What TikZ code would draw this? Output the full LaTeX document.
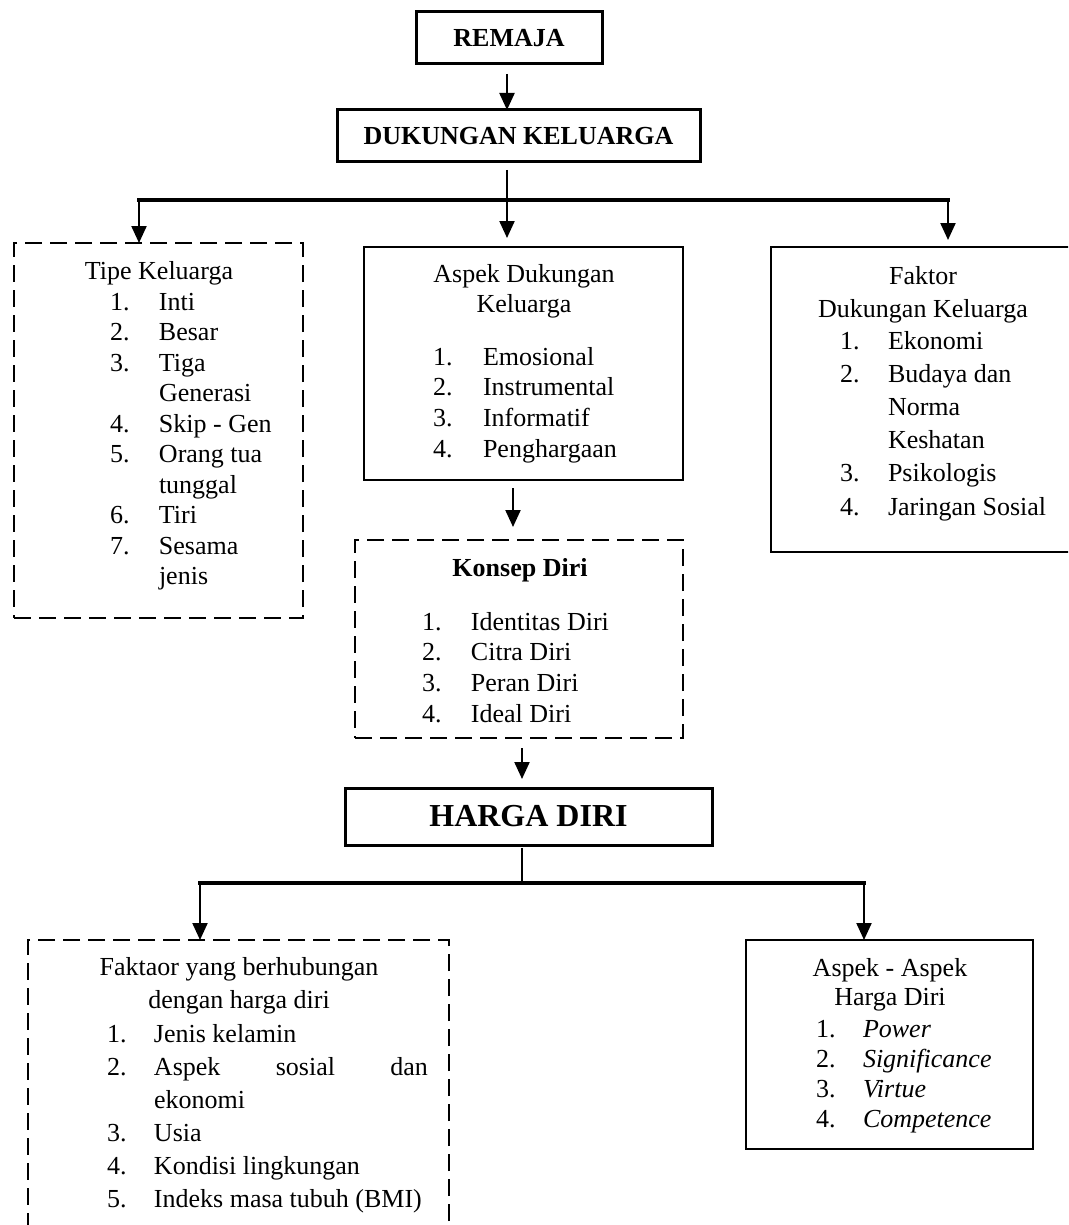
\documentclass[tikz,border=0pt]{standalone}
\usepackage{fontspec}
\setmainfont{Liberation Serif}
\usetikzlibrary{arrows.meta,calc}
\begin{document}
\begin{tikzpicture}[x=1pt,y=-1pt,
  every node/.style={inner sep=0pt,outer sep=0pt},
  bigbox/.style={draw,line width=3pt,font=\bfseries\fontsize{26}{30}\selectfont},
  solidbox/.style={draw,line width=2pt},
  dashbox/.style={draw,line width=2.5pt,dash pattern=on 17pt off 8pt},
  conn/.style={line width=2.2pt},
  arr/.style={line width=2.2pt,-{Triangle[length=17pt,width=15pt]}},
  bus/.style={line width=3.5pt,line cap=rect},
  txt/.style={font=\fontsize{26}{#1}\selectfont},
  txt/.default=30.5]
\useasboundingbox (0,0) rectangle (1068,1225);
\clip (0,0) rectangle (1068,1225);

% ---------- boxes ----------
\node[bigbox,minimum width=186pt,minimum height=52pt] (remaja) at (509,38) {REMAJA};
\node[bigbox,minimum width=363pt,minimum height=52pt] (dukungan) at (518.5,136) {DUKUNGAN KELUARGA};
\node[dashbox,minimum width=289pt,minimum height=375pt] (tipe) at (158.5,430.5) {};
\node[solidbox,minimum width=319pt,minimum height=233pt] (aspek) at (523.5,363.5) {};
\node[solidbox,minimum width=309pt,minimum height=305pt] (faktor) at (925.5,399.5) {};
\node[dashbox,minimum width=328pt,minimum height=198pt] (konsep) at (519,639) {};
\node[bigbox,minimum width=367pt,minimum height=57pt,font=\bfseries\fontsize{32}{36}\selectfont] (harga) at (528.5,816.5) {HARGA DIRI};
\node[dashbox,minimum width=421pt,minimum height=310pt] (faktaor) at (238.5,1095) {};
\node[solidbox,minimum width=287pt,minimum height=209pt] (aspekhd) at (889.5,1044.5) {};

% ---------- texts ----------
\node[txt,anchor=base] (tipeT) at (159,279) {Tipe Keluarga};
\node[txt,anchor=base west] (tipeL) at (110,310) {\begin{tabular}[t]{@{}p{49pt}@{}l@{}}
1. & Inti\\ 2. & Besar\\ 3. & Tiga\\ & Generasi\\ 4. & Skip - Gen\\ 5. & Orang tua\\ & tunggal\\ 6. & Tiri\\ 7. & Sesama\\ & jenis\end{tabular}};

\node[txt=30,anchor=base] (aspekT) at (524,282) {\begin{tabular}[t]{@{}c@{}}Aspek Dukungan\\Keluarga\end{tabular}};
\node[txt=30.7,anchor=base west] (aspekL) at (433,365) {\begin{tabular}[t]{@{}p{50pt}@{}l@{}}
1. & Emosional\\ 2. & Instrumental\\ 3. & Informatif\\ 4. & Penghargaan\end{tabular}};

\node[txt,anchor=base,font=\bfseries\fontsize{26}{30}\selectfont] (konsepT) at (520,576) {Konsep Diri};
\node[txt=30.7,anchor=base west] (konsepL) at (422,630) {\begin{tabular}[t]{@{}p{49pt}@{}l@{}}
1. & Identitas Diri\\ 2. & Citra Diri\\ 3. & Peran Diri\\ 4. & Ideal Diri\end{tabular}};

\node[txt=33,anchor=base] (faktorT) at (923,284) {\begin{tabular}[t]{@{}c@{}}Faktor\\Dukungan Keluarga\end{tabular}};
\node[txt=33.2,anchor=base west] (faktorL) at (840,349) {\begin{tabular}[t]{@{}p{48pt}@{}l@{}}
1. & Ekonomi\\ 2. & Budaya dan\\ & Norma\\ & Keshatan\\ 3. & Psikologis\\ 4. & Jaringan Sosial\end{tabular}};

\node[txt=33,anchor=base] (faktaorT) at (239,975) {\begin{tabular}[t]{@{}c@{}}Faktaor yang berhubungan\\dengan harga diri\end{tabular}};
\node[txt=33,anchor=base west] (faktaorL) at (107,1042) {\begin{tabular}[t]{@{}p{47pt}@{}l@{}}
1. & Jenis kelamin\\ 2. & \hbox to 274pt{Aspek\hfill sosial\hfill dan}\\ & ekonomi\\ 3. & Usia\\ 4. & Kondisi lingkungan\\ 5. & Indeks masa tubuh (BMI)\end{tabular}};

\node[txt=29,anchor=base] (aspekhdT) at (890,976) {\begin{tabular}[t]{@{}c@{}}Aspek - Aspek\\Harga Diri\end{tabular}};
\node[txt=30.3,anchor=base west] (aspekhdL) at (816,1037) {\begin{tabular}[t]{@{}p{47pt}@{}l@{}}
1. & \textit{Power}\\ 2. & \textit{Significance}\\ 3. & \textit{Virtue}\\ 4. & \textit{Competence}\end{tabular}};

% ---------- connectors ----------
\coordinate (r1) at ($(remaja.south)+(-2,10)$);
\draw[arr] (r1) -- (r1 |- dukungan.north);

\coordinate (d1) at ($(dukungan.south)+(-11.5,8)$);
\coordinate (bl) at (139,200);
\coordinate (br) at (948,200);
\draw[bus] (bl) -- (br);
\draw[arr] (d1) -- ($(d1 |- aspek.north)+(0,-9)$);
\draw[arr] (bl) -- (bl |- tipe.north);
\draw[arr] (br) -- ($(br |- faktor.north)+(0,-7)$);

\coordinate (a1) at ($(aspek.south)+(-10.5,8)$);
\draw[arr] (a1) -- ($(a1 |- konsep.north)+(0,-13)$);

\coordinate (k1) at ($(konsep.south)+(3,10)$);
\draw[arr] (k1) -- ($(k1 |- harga.north)+(0,-9)$);

\coordinate (h1) at ($(harga.south)+(-6.5,3)$);
\coordinate (hl) at (200,883);
\coordinate (hr) at (864,883);
\draw[conn] (h1) -- (h1 |- hl);
\draw[bus] (hl) -- (hr);
\draw[arr] (hl) -- (hl |- faktaor.north);
\draw[arr] (hr) -- (hr |- aspekhd.north);
\end{tikzpicture}
\end{document}
